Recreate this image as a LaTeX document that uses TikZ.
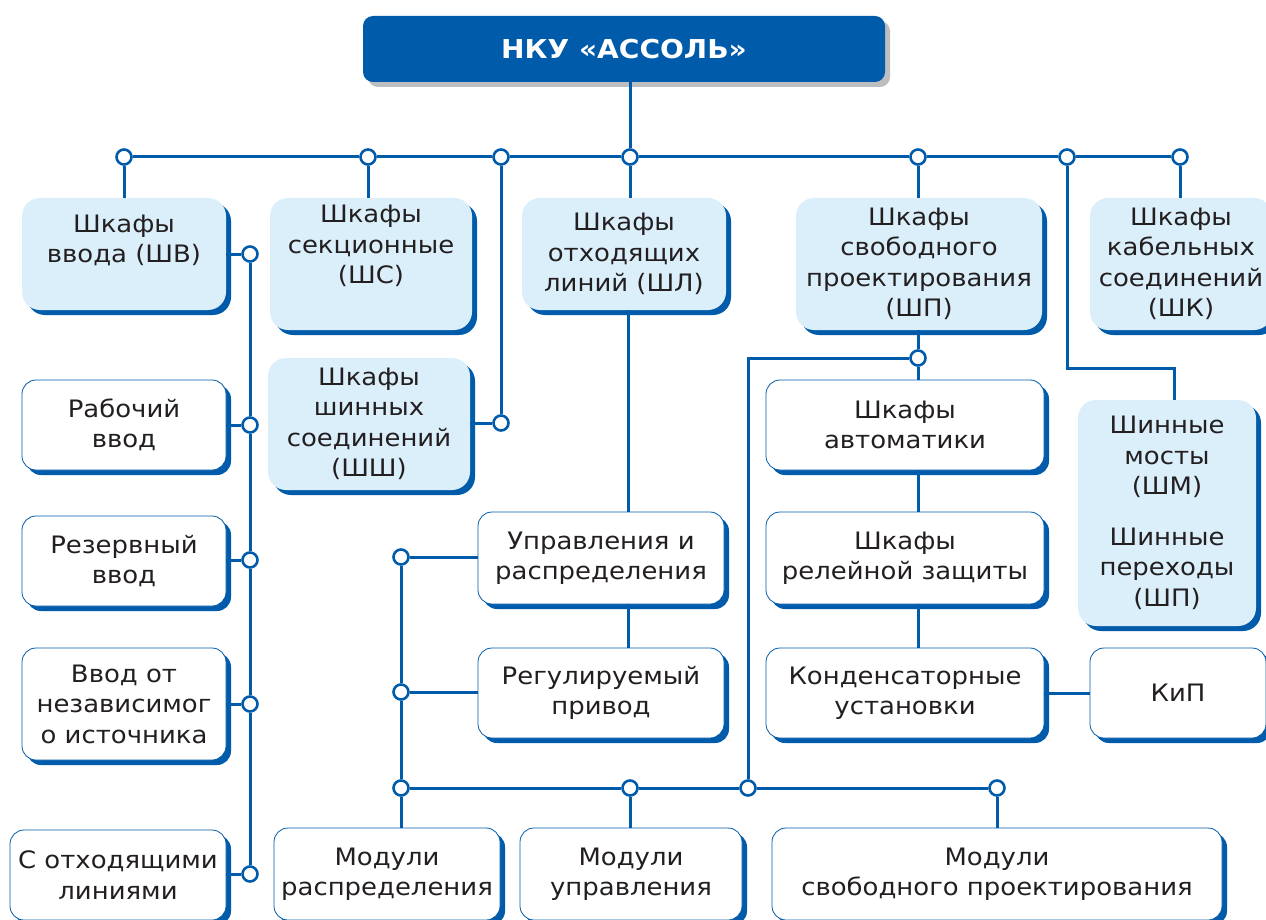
\documentclass[tikz,border=0pt]{standalone}
\usepackage{fontspec}
\setmainfont{DejaVu Sans}[FakeStretch=1.08]
\usetikzlibrary{shadows,calc}
\definecolor{nblue}{HTML}{005BAA}
\definecolor{lfill}{HTML}{DBEFFB}
\definecolor{txt}{HTML}{231F20}
\definecolor{sgray}{HTML}{BDBEC0}
\newcommand{\bx}[7]{\node[#1, minimum width=#5pt, minimum height=#6pt] (#2) at (#3,#4) {#7};}
\begin{document}
\begin{tikzpicture}[x=1pt,y=-1pt,
 base/.style={align=center, text=txt, font=\fontsize{24}{30.5}\selectfont, inner sep=0pt},
 lbox/.style={base, rounded corners=18pt, fill=lfill, drop shadow={shadow xshift=5pt,shadow yshift=-5pt,fill=nblue,opacity=1}},
 wbox/.style={base, rounded corners=14pt, fill=white, draw=nblue, line width=0.8pt, drop shadow={shadow xshift=5pt,shadow yshift=-5pt,fill=nblue,opacity=1}},
 tbox/.style={align=center, text=white, font=\bfseries\fontsize{26}{30}\selectfont, rounded corners=10pt, fill=nblue, inner sep=0pt, drop shadow={shadow xshift=5pt,shadow yshift=-5pt,fill=sgray,opacity=1}},
 conn/.style={draw=nblue, line width=3pt},
 jn/.style={circle, draw=nblue, fill=white, line width=2.6pt, minimum size=15pt, inner sep=0pt}]
\useasboundingbox (0,0) rectangle (1266,920);
\clip (0,0) rectangle (1266,920);

% boxes
\bx{tbox}{title}{624}{49}{522}{66}{НКУ «АССОЛЬ»}
\bx{lbox}{shv}{124}{254}{204}{112}{Шкафы\\ввода (ШВ)\\~}
\bx{lbox}{shs}{371}{264}{202}{132}{\\[-22pt]Шкафы\\секционные\\(ШС)\\~}
\bx{lbox}{shl}{624}{254}{204}{112}{Шкафы\\отходящих\\линий (ШЛ)}
\bx{lbox}{shp}{919}{264}{246}{132}{Шкафы\\свободного\\проектирования\\(ШП)}
\bx{lbox}{shk}{1181}{264}{182}{132}{Шкафы\\кабельных\\соединений\\(ШК)}
\bx{lbox}{shsh}{369}{424}{202}{132}{Шкафы\\шинных\\соединений\\(ШШ)}
\bx{lbox}{shm}{1167}{513}{178}{226}{Шинные\\мосты\\(ШМ)\\[20pt]Шинные\\переходы\\(ШП)}

\bx{wbox}{rab}{124}{425}{204}{90}{Рабочий\\ввод}
\bx{wbox}{rez}{124}{561}{204}{90}{Резервный\\ввод}
\bx{wbox}{vvod}{124}{704}{204}{112}{Ввод от\\независимог\\о источника}
\bx{wbox}{sotl}{118}{875}{216}{90}{С отходящими\\линиями}
\bx{wbox}{upr}{601}{558}{246}{92}{Управления и\\распределения}
\bx{wbox}{reg}{601}{693}{246}{90}{Регулируемый\\привод}
\bx{wbox}{avt}{905}{425}{278}{90}{Шкафы\\автоматики}
\bx{wbox}{rel}{905}{558}{278}{92}{Шкафы\\релейной защиты}
\bx{wbox}{kond}{905}{693}{278}{90}{Конденсаторные\\установки}
\bx{wbox}{kip}{1178}{693}{176}{90}{КиП}
\bx{wbox}{mr}{387}{874}{226}{92}{Модули\\распределения}
\bx{wbox}{mu}{631}{874}{222}{92}{Модули\\управления}
\bx{wbox}{ms}{997}{874}{450}{92}{Модули\\свободного проектирования}

% junctions
\node[jn] (jA) at (124,157) {};
\node[jn] (jB) at (368,157) {};
\node[jn] (jC) at (501,157) {};
\node[jn] (jD) at (630,157) {};
\node[jn] (jE) at (918,157) {};
\node[jn] (jF) at (1067,157) {};
\node[jn] (jG) at (1180,157) {};
\node[jn] (jC2) at (501,423) {};
\node[jn] (jL0) at (250,254) {};
\node[jn] (jL1) at (250,425) {};
\node[jn] (jL2) at (250,560) {};
\node[jn] (jL3) at (250,704) {};
\node[jn] (jL4) at (250,874) {};
\node[jn] (jP) at (918,358) {};
\node[jn] (jU1) at (401,557) {};
\node[jn] (jU2) at (401,692) {};
\node[jn] (jB1) at (401,788) {};
\node[jn] (jB2) at (630,788) {};
\node[jn] (jB3) at (748,788) {};
\node[jn] (jB4) at (997,788) {};
\coordinate (vL) at (628,0);
\coordinate (cF) at (1174,368);

% connectors
\draw[conn] (title.south -| jD) -- (jD);
\draw[conn] (jA) -- (jB);
\draw[conn] (jB) -- (jC);
\draw[conn] (jC) -- (jD);
\draw[conn] (jD) -- (jE);
\draw[conn] (jE) -- (jF);
\draw[conn] (jF) -- (jG);
\draw[conn] (jA) -- (jA |- shv.north);
\draw[conn] (jB) -- (jB |- shs.north);
\draw[conn] (jD) -- (jD |- shl.north);
\draw[conn] (jE) -- (jE |- shp.north);
\draw[conn] (jG) -- (jG |- shk.north);
\draw[conn] (jC) -- (jC2);
\draw[conn] (jC2) -- (jC2 -| shsh.east);
\draw[conn] (jF) |- (cF) -- (cF |- shm.north);

\draw[conn] (jL0) -- (jL0 -| shv.east);
\draw[conn] (jL0) -- (jL1);
\draw[conn] (jL1) -- (jL2);
\draw[conn] (jL2) -- (jL3);
\draw[conn] (jL3) -- (jL4);
\draw[conn] (jL1) -- (jL1 -| rab.east);
\draw[conn] (jL2) -- (jL2 -| rez.east);
\draw[conn] (jL3) -- (jL3 -| vvod.east);
\draw[conn] (jL4) -- (jL4 -| sotl.east);

\draw[conn] (shl.south -| vL) -- (upr.north -| vL);
\draw[conn] (upr.south -| vL) -- (reg.north -| vL);
\draw[conn] (jU1) -- (jU1 -| upr.west);
\draw[conn] (jU2) -- (jU2 -| reg.west);
\draw[conn] (jU1) -- (jU2);
\draw[conn] (jU2) -- (jB1);
\draw[conn] (jB1) -- (jB2);
\draw[conn] (jB2) -- (jB3);
\draw[conn] (jB3) -- (jB4);
\draw[conn] (jB1) -- (jB1 |- mr.north);
\draw[conn] (jB2) -- (jB2 |- mu.north);
\draw[conn] (jB4) -- (jB4 |- ms.north);
\draw[conn] (jB3) |- (jP);

\draw[conn] (jP) -- (jP |- shp.south);
\draw[conn] (jP) -- (jP |- avt.north);
\draw[conn] (avt.south -| jP) -- (rel.north -| jP);
\draw[conn] (rel.south -| jP) -- (kond.north -| jP);
\draw[conn] (kond.east) -- (kip.west);
\end{tikzpicture}
\end{document}
